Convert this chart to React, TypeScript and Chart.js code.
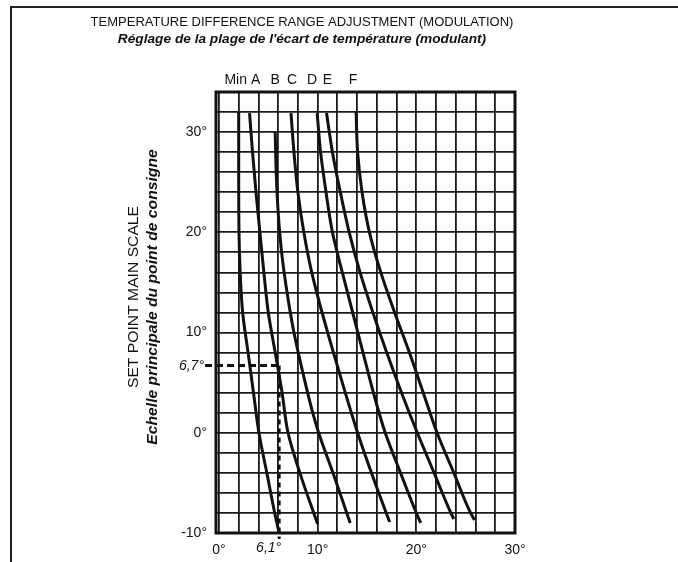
import React, { useEffect, useRef } from 'react';
import { Chart, registerables } from 'chart.js';
Chart.register(...registerables);

const TITLE_EN = 'TEMPERATURE DIFFERENCE RANGE ADJUSTMENT (MODULATION)';
const TITLE_FR = "Réglage de la plage de l'écart de température (modulant)";
const Y_TITLE_EN = 'SET POINT MAIN SCALE';
const Y_TITLE_FR = 'Echelle principale du point de consigne';

const curveNames = ['Min', 'A', 'B', 'C', 'D', 'E', 'F'];

// Each curve: x = temperature difference (°), y = set point (°), read top to bottom
const minX = [2.0, 2.0, 2.03, 2.15, 2.4, 2.95, 3.5, 4.05, 4.85, 5.65, 6.1];
const minY = [32, 26, 20, 16, 12, 8, 4, 0, -4, -8, -10];
const aX = [3.1, 3.4, 3.75, 4.15, 4.55, 5.0, 5.7, 6.4, 7.0, 8.2, 9.6, 10.0];
const aY = [31.9, 28, 24, 20, 16, 12, 8, 4, 0, -4, -8, -9.1];
const bX = [5.7, 5.8, 6.0, 6.35, 6.9, 7.6, 8.5, 9.5, 10.1, 11.55, 12.95, 13.3];
const bY = [30, 26, 22, 18, 14, 10, 6, 2, 0, -4, -8, -9];
const cX = [7.3, 7.6, 8.0, 8.6, 9.4, 10.45, 11.6, 12.8, 14.05, 15.45, 16.95, 17.3];
const cY = [31.9, 28, 24, 20, 16, 12, 8, 4, 0, -4, -8, -8.9];
const dX = [9.95, 10.3, 10.85, 11.5, 12.5, 13.55, 14.6, 15.65, 16.85, 18.4, 20.0, 20.45];
const dY = [31.9, 28, 24, 20, 16, 12, 8, 4, 0, -4, -8, -9];
const eX = [10.9, 11.5, 12.3, 13.2, 14.3, 15.6, 17.0, 18.5, 20.1, 21.8, 23.5, 23.8];
const eY = [31.9, 28, 24, 20, 16, 12, 8, 4, 0, -4, -8, -8.6];
const fX = [13.9, 14.05, 14.5, 15.25, 16.4, 17.8, 19.3, 20.7, 22.1, 23.8, 25.5, 25.9];
const fY = [32, 28, 24, 20, 16, 12, 8, 4, 0, -4, -8, -8.7];

const curvesX = [minX, aX, bX, cX, dX, eX, fX];
const curvesY = [minY, aY, bY, cY, dY, eY, fY];

const X_MIN = -0.3;
const X_MAX = 30;
const Y_MIN = -10;
const Y_MAX = 34;
const xGridValues = [0, 2, 4, 6, 8, 10, 12, 14, 16, 18, 20, 22, 24, 26, 28, 30];
const yGridValues = [-10, -8, -6, -4, -2, 0, 2, 4, 6, 8, 10, 12, 14, 16, 18, 20, 22, 24, 26, 28, 30, 32];
const xTickValues = [0, 10, 20, 30];
const xTickLabels = ['0°', '10°', '20°', '30°'];
const yTickValues = [-10, 0, 10, 20, 30];
const yTickLabels = ['-10°', '0°', '10°', '20°', '30°'];

const markerX = 6.1;
const markerY = 6.7;
const markerXLabel = '6,1°';
const markerYLabel = '6,7°';

const FONT = '"Liberation Sans", Arial, Helvetica, sans-serif';
const INK = '#111';

const overlay = {
  id: 'overlay',
  beforeDraw(chart: any) {
    const ctx = chart.ctx;
    ctx.save();
    ctx.fillStyle = '#fff';
    ctx.fillRect(0, 0, chart.width, chart.height);
    ctx.strokeStyle = '#222';
    ctx.lineWidth = 2;
    ctx.beginPath();
    ctx.moveTo(11, chart.height);
    ctx.lineTo(11, 7);
    ctx.lineTo(chart.width, 7);
    ctx.stroke();
    ctx.restore();
  },
  beforeDatasetsDraw(chart: any) {
    const { ctx, chartArea } = chart;
    const { left, top, right, bottom } = chartArea;
    ctx.save();
    ctx.strokeStyle = INK;
    ctx.lineWidth = 3;
    ctx.strokeRect(left, top, right - left, bottom - top);
    ctx.restore();
  },
  afterDatasetsDraw(chart: any) {
    const { ctx, chartArea, scales } = chart;
    const xs = scales.x;
    const ys = scales.y;
    const mx = xs.getPixelForValue(markerX);
    const my = ys.getPixelForValue(markerY);
    ctx.save();
    ctx.strokeStyle = INK;
    ctx.lineWidth = 3;
    ctx.setLineDash([7, 4]);
    ctx.beginPath();
    ctx.moveTo(205, my);
    ctx.lineTo(mx, my);
    ctx.stroke();
    ctx.setLineDash([5, 4]);
    ctx.beginPath();
    ctx.moveTo(mx, my);
    ctx.lineTo(mx, chartArea.bottom + 6);
    ctx.stroke();
    ctx.setLineDash([]);

    ctx.fillStyle = INK;
    ctx.textBaseline = 'middle';
    ctx.font = `italic 14px ${FONT}`;
    ctx.textAlign = 'right';
    ctx.fillText(markerYLabel, 204, my);
    ctx.fillText(markerXLabel, mx + 2, 548);

    ctx.textAlign = 'center';
    ctx.font = `13px ${FONT}`;
    ctx.fillText(TITLE_EN, 302, 22);
    ctx.font = `italic bold 13.7px ${FONT}`;
    ctx.fillText(TITLE_FR, 302, 39);

    const letterDx = [-3, 6, 0, 1, -5, 1, -3];
    ctx.font = `14px ${FONT}`;
    curveNames.forEach((name, i) => {
      const px = xs.getPixelForValue(curvesX[i][0]) + letterDx[i];
      ctx.fillText(name, px, 80);
    });

    const cy = 297;
    ctx.save();
    ctx.translate(134, cy);
    ctx.rotate(-Math.PI / 2);
    ctx.scale(1.12, 1);
    ctx.font = `14px ${FONT}`;
    ctx.fillText(Y_TITLE_EN, 0, 0);
    ctx.restore();
    ctx.save();
    ctx.translate(153, cy);
    ctx.rotate(-Math.PI / 2);
    ctx.scale(1.12, 1);
    ctx.font = `italic bold 14px ${FONT}`;
    ctx.fillText(Y_TITLE_FR, 0, 0);
    ctx.restore();
    ctx.restore();
  },
};

export default function App() {
  const ref = useRef<HTMLCanvasElement>(null);
  useEffect(() => {
    document.body.style.margin = '0';
    const canvas = ref.current!;
    const datasets = curveNames.map((name, i) => ({
      label: name,
      data: curvesX[i].map((x, j) => ({ x, y: curvesY[i][j] })),
      borderColor: INK,
      backgroundColor: INK,
      borderWidth: 3,
      pointRadius: 0,
      cubicInterpolationMode: 'monotone',
      fill: false,
    }));
    const chart = new Chart(canvas, {
      type: 'line',
      data: { datasets },
      plugins: [overlay],
      options: {
        indexAxis: 'y',
        responsive: false,
        animation: false,
        devicePixelRatio: 1,
        layout: { padding: { left: 0, top: 92, right: 163, bottom: 0 }, autoPadding: false },
        plugins: { legend: { display: false }, tooltip: { enabled: false }, title: { display: false } },
        scales: {
          x: {
            type: 'linear',
            position: 'bottom',
            min: X_MIN,
            max: X_MAX,
            afterBuildTicks: (s: any) => {
              s.ticks = xGridValues.map((v) => ({ value: v }));
            },
            afterFit: (s: any) => {
              s.height = 29;
            },
            grid: { color: '#1a1a1a', lineWidth: 1.8, drawTicks: false },
            border: { display: false },
            ticks: {
              autoSkip: false,
              maxRotation: 0,
              padding: 9,
              color: INK,
              font: { family: FONT, size: 14 },
              callback: (v: any) => {
                const k = xTickValues.indexOf(Number(v));
                return k >= 0 ? xTickLabels[k] : '';
              },
            },
          },
          y: {
            type: 'linear',
            position: 'left',
            min: Y_MIN,
            max: Y_MAX,
            afterBuildTicks: (s: any) => {
              s.ticks = yGridValues.map((v) => ({ value: v }));
            },
            afterFit: (s: any) => {
              s.width = 216;
            },
            grid: { color: '#1a1a1a', lineWidth: 1.8, drawTicks: false },
            border: { display: false },
            ticks: {
              autoSkip: false,
              padding: 9,
              color: INK,
              font: { family: FONT, size: 14 },
              callback: (v: any) => {
                const k = yTickValues.indexOf(Number(v));
                return k >= 0 ? yTickLabels[k] : '';
              },
            },
          },
        },
      },
    } as any);
    return () => chart.destroy();
  }, []);
  return (
    <div style={{ width: 678, height: 562 }}>
      <canvas ref={ref} width={678} height={562} style={{ display: 'block' }} />
    </div>
  );
}
